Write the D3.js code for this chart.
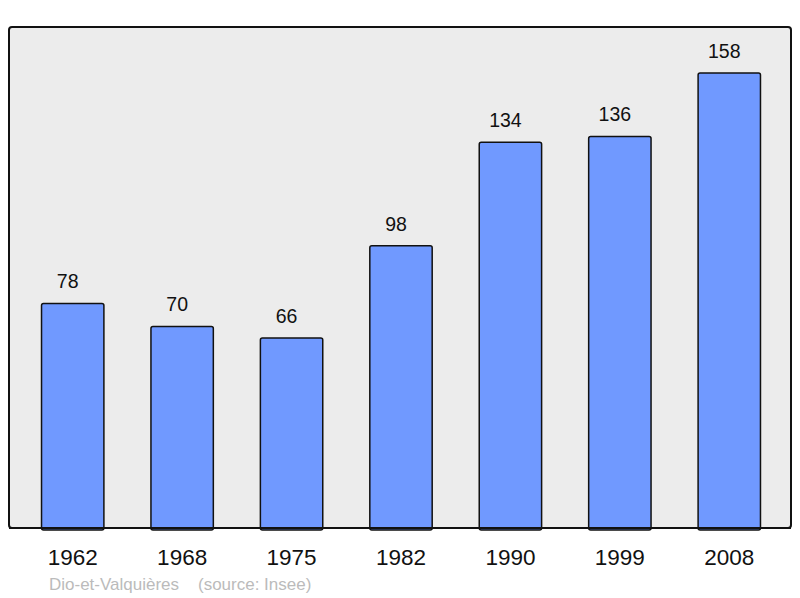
<!DOCTYPE html>
<html>
<head>
<meta charset="utf-8">
<script src="https://cdn.jsdelivr.net/npm/d3@7"></script>
<style>
  body { margin: 0; background: #fff; }
  text { font-family: "Liberation Sans", Arial, sans-serif; }
</style>
</head>
<body>
<div id="chart"></div>
<script>
const years = ["1962", "1968", "1975", "1982", "1990", "1999", "2008"];
const population = [78, 70, 66, 98, 134, 136, 158];
const commune = "Dio-et-Valquières";
const source = "(source: Insee)";

const width = 800, height = 598;
const frame = { left: 9, top: 27, right: 791, bottom: 528 };

const svg = d3.select("#chart")
  .append("svg")
  .attr("width", width)
  .attr("height", height);

svg.append("rect")
  .attr("x", frame.left)
  .attr("y", frame.top)
  .attr("width", frame.right - frame.left)
  .attr("height", frame.bottom - frame.top)
  .attr("rx", 3)
  .attr("fill", "#ececec")
  .attr("stroke", "#111")
  .attr("stroke-width", 2);

const xScale = d3.scaleBand()
  .domain(years)
  .range([18, 784])
  .paddingInner(0.43)
  .paddingOuter(0.215);

const yScale = d3.scaleLinear()
  .domain([0, 174])
  .range([frame.bottom, frame.top]);

svg.selectAll("rect.bar")
  .data(population)
  .enter()
  .append("rect")
  .attr("class", "bar")
  .attr("x", (_, i) => xScale(years[i]))
  .attr("y", d => yScale(d))
  .attr("width", xScale.bandwidth())
  .attr("height", d => frame.bottom - yScale(d) + 2)
  .attr("rx", 2)
  .attr("fill", "#7099ff")
  .attr("stroke", "#111")
  .attr("stroke-width", 1.5);

// redraw bottom line over bar ends
svg.append("line")
  .attr("x1", frame.left).attr("x2", frame.right)
  .attr("y1", frame.bottom).attr("y2", frame.bottom)
  .attr("stroke", "#111")
  .attr("stroke-width", 2);

svg.selectAll("text.value")
  .data(population)
  .enter()
  .append("text")
  .attr("class", "value")
  .attr("x", (_, i) => xScale(years[i]) + xScale.bandwidth() / 2 - 5)
  .attr("y", d => yScale(d) - 15)
  .attr("text-anchor", "middle")
  .attr("font-size", 19.5)
  .attr("fill", "#111")
  .text(d => d);

const xAxis = svg.append("g")
  .attr("transform", `translate(0, ${frame.bottom})`)
  .call(d3.axisBottom(xScale).tickSize(0).tickPadding(21));
xAxis.select(".domain").remove();
xAxis.selectAll("text")
  .attr("font-size", 22.5)
  .attr("fill", "#111")
  .style("font-family", "'Liberation Sans', Arial, sans-serif");

svg.append("text")
  .attr("x", 49)
  .attr("y", 590)
  .attr("font-size", 17)
  .attr("fill", "#bbbbbb")
  .attr("xml:space", "preserve")
  .text(commune + "    " + source);
</script>
</body>
</html>
